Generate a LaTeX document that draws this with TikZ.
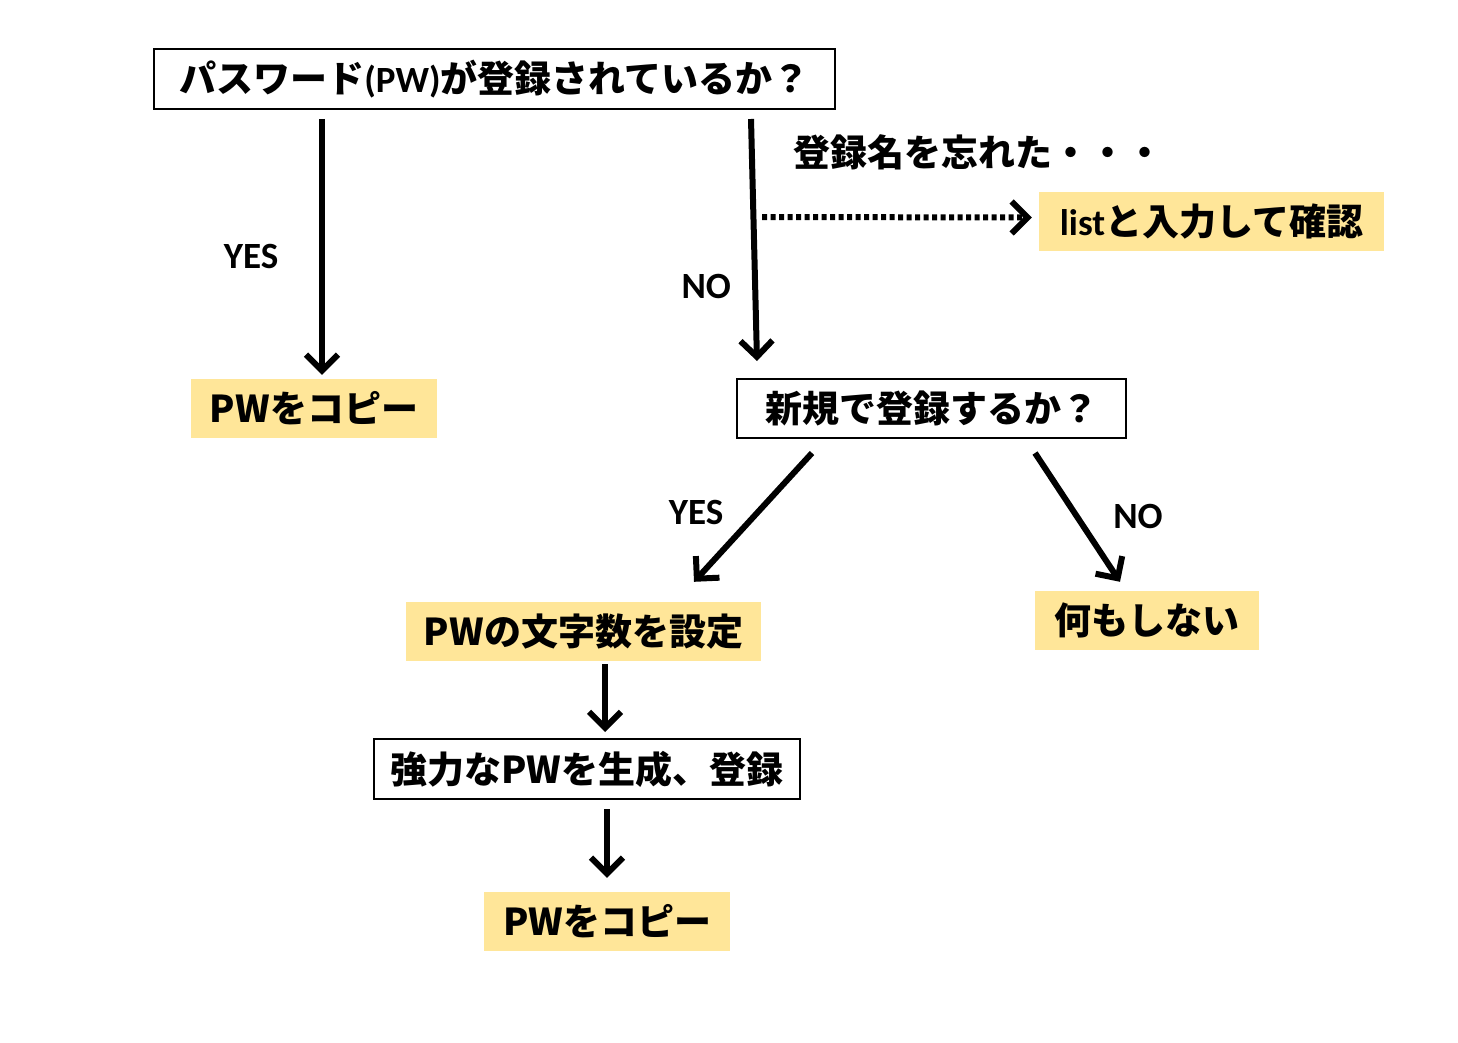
\documentclass[tikz,border=0pt]{standalone}
\usepackage{fontspec}
\setmainfont{Noto Sans CJK JP}
\newfontfamily\lat{Carlito}
\usetikzlibrary{arrows.meta,positioning}

\definecolor{note}{HTML}{FFE699}

\begin{document}
\begin{tikzpicture}[x=1pt,y=1pt,
    every node/.style={font=\fontsize{37}{40}\selectfont\bfseries},
    quest/.style={draw=black,line width=2pt,fill=white,inner sep=0pt},
    todo/.style={fill=note,inner sep=0pt},
    lbl/.style={font=\fontsize{37}{40}\selectfont\lat\bfseries},
    arr/.style={line width=6pt,-{Straight Barb[length=16pt,width=32pt]}}]
        \useasboundingbox (0,0) rectangle (1458,-1043);

        % questions
        \node[quest,minimum width=681,minimum height=60] (ask)  at (494.5,-79)
             {パスワード{\lat(PW)}が登録されているか？};
        \node[quest,minimum width=389,minimum height=59] (newq) at (931.5,-408.5)
             {新規で登録するか？};
        \node[quest,minimum width=426,minimum height=60] (gen)  at (587,-769)
             {強力なPWを生成、登録};

        % results
        \node[todo,minimum width=246,minimum height=59] (copyA)  at (314,-408.5)   {PWをコピー};
        \node[todo,minimum width=345,minimum height=59] (list)   at (1211.5,-221.5) {{\lat list}と入力して確認};
        \node[todo,minimum width=355,minimum height=59] (setlen) at (583.5,-631.5) {PWの文字数を設定};
        \node[todo,minimum width=224,minimum height=59] (none)   at (1147,-620.5)  {何もしない};
        \node[todo,minimum width=246,minimum height=59] (copyB)  at (607,-921.5)   {PWをコピー};

        \node[anchor=west] (forgot) at (790,-152) {登録名を忘れた・・・};
        \coordinate (fork) at (762,-217);

        % connectors
        \draw[arr] ([xshift=-172.5,yshift=-9]ask.south) -- node[lbl,xshift=-71,yshift=-9.5] {YES} ([xshift=8,yshift=4]copyA.north);
        \draw[arr] ([xshift=256.5,yshift=-9]ask.south) -- node[lbl,pos=0.7,xshift=-49,yshift=2] {NO} ([xshift=-174.5,yshift=17]newq.north);
        \draw[arr,line width=6pt,dash pattern=on 5pt off 3.5pt] (fork) -- ([xshift=-7,yshift=4]list.west);
        \draw[arr] ([shift={(-119.5,-14)}]newq.south) -- node[lbl,xshift=-57,yshift=5] {YES} ([shift={(110.5,20)}]setlen.north);
        \draw[arr] ([shift={(103.5,-14)}]newq.south) -- node[lbl,xshift=60.5,yshift=1] {NO} ([shift={(-27,9)}]none.north);
        \draw[arr] ([shift={(21.5,-3)}]setlen.south) -- ([shift={(18,6)}]gen.north);
        \draw[arr] ([shift={(20,-9)}]gen.south) -- ([shift={(0,14)}]copyB.north);
\end{tikzpicture}
\end{document}
